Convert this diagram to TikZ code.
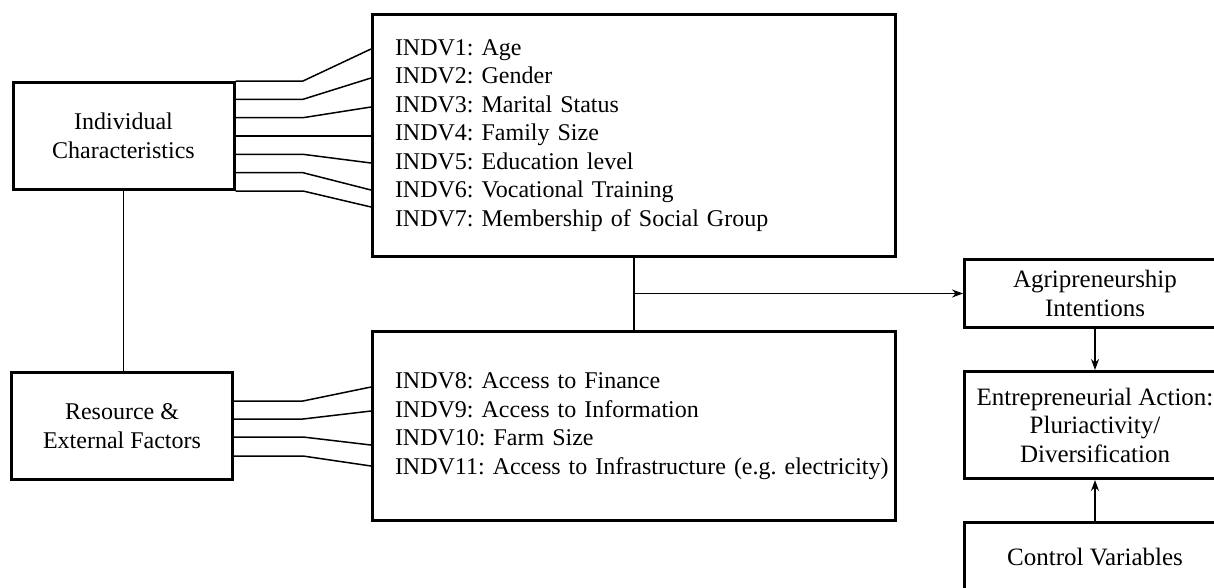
\documentclass[tikz,border=0pt]{standalone}
\usepackage{fontspec}
\setmainfont{Liberation Serif}
\usetikzlibrary{positioning, arrows.meta}
\frenchspacing

\begin{document}
\begin{tikzpicture}[
  x=1pt, y=-1pt,
  box/.style={draw, line width=3pt, align=center, inner sep=0pt, minimum width=221pt, minimum height=107pt, font=\fontsize{24}{28.5}\selectfont},
  listbox/.style={draw, line width=3pt, align=left, inner xsep=22.5pt, inner ysep=0pt, text width=478pt, font=\fontsize{24}{28.5}\selectfont},
  rbox/.style={draw, line width=3pt, align=center, inner sep=0pt, minimum width=261pt, font=\fontsize{25}{28.5}\selectfont},
  link/.style={line width=1.5pt},
  ar/.style={-{Stealth[length=11pt, width=8pt]}, line width=1.5pt}
]
\useasboundingbox (0,0) rectangle (1214,587);

% Left column: the two groups of factors
\node[box] (indiv)    at (123.5,136) {Individual\\Characteristics};
\node[box] (resource) at (122,426)   {Resource \&\\External Factors};

% Middle column: variable lists
\node[listbox, minimum height=242pt] (list1) at (634,135.5) {INDV1: Age\\INDV2: Gender\\INDV3: Marital Status\\INDV4: Family Size\\INDV5: Education level\\INDV6: Vocational Training\\INDV7: Membership of Social Group};
\node[listbox, minimum height=189pt] (list2) at (634,426) {INDV8: Access to Finance\\INDV9: Access to Information\\INDV10: Farm Size\\\mbox{INDV11: Access to Infrastructure (e.g. electricity)}};

% Right column: outcome chain
\node[rbox, minimum height=68pt] (agri) at (1095,293.5) {Agripreneurship\\Intentions};
\node[rbox, minimum height=107pt, below=41pt of agri] (action) {Entrepreneurial Action:\\Pluriactivity/\\Diversification};
\node[rbox, minimum height=70pt, below=41pt of action] (control) {Control Variables};

% Fan-out links from each group to its variable list
\foreach \s/\e in {81/49, 99.3/78, 117.7/107, 136/136, 154.3/163, 172.7/190, 191/207}
  \draw[link] (indiv.east |- 0,\s) -- (303,\s) -- (list1.west |- 0,\e);
\foreach \s/\e in {401/387, 419/411, 437/445, 456/466}
  \draw[link] (resource.east |- 0,\s) -- (303,\s) -- (list2.west |- 0,\e);

% Links between groups and lists
\draw[link] (indiv.south) -- (indiv.south |- resource.north);
\draw[link] (list1.south) -- (list2.north);
\coordinate (junc) at (list1.south |- agri.west);
\draw[ar] (junc) -- (agri.west);

% Outcome arrows
\draw[ar] (agri) -- (action);
\draw[ar] (control) -- (action);

\end{tikzpicture}
\end{document}
